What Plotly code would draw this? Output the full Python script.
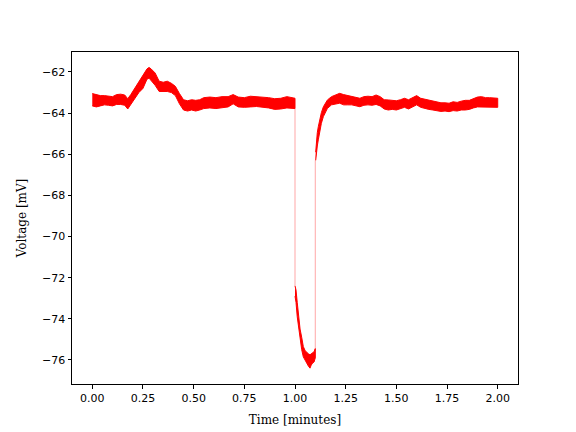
import plotly.graph_objects as go

# Segment A: 0 - 1.0 min (time, lower envelope, upper envelope)
t_a = [0.00, 0.02, 0.04, 0.06, 0.08, 0.10, 0.12, 0.14, 0.16, 0.175, 0.19, 0.21, 0.23, 0.25,
       0.27, 0.28, 0.29, 0.31, 0.33, 0.35, 0.37, 0.39, 0.41, 0.43, 0.45, 0.47, 0.49, 0.51,
       0.53, 0.55, 0.58, 0.61, 0.64, 0.67, 0.695, 0.72, 0.75, 0.78, 0.81, 0.84, 0.87, 0.90,
       0.93, 0.96, 0.99, 1.00]
lo_a = [-63.65, -63.70, -63.65, -63.60, -63.62, -63.65, -63.58, -63.58, -63.62, -63.80, -63.60,
        -63.30, -63.00, -62.80, -62.35, -62.30, -62.40, -62.65, -62.95, -62.95, -62.95, -63.00,
        -63.15, -63.55, -63.85, -63.90, -63.85, -63.90, -63.85, -63.78, -63.75, -63.78, -63.75,
        -63.70, -63.55, -63.70, -63.72, -63.70, -63.68, -63.72, -63.75, -63.82, -63.80, -63.75,
        -63.78, -63.78]
hi_a = [-63.05, -63.10, -63.15, -63.15, -63.18, -63.20, -63.10, -63.08, -63.12, -63.30, -63.10,
        -62.80, -62.50, -62.20, -61.85, -61.78, -61.85, -62.05, -62.45, -62.50, -62.45, -62.55,
        -62.70, -63.05, -63.35, -63.40, -63.35, -63.38, -63.35, -63.25, -63.22, -63.25, -63.20,
        -63.20, -63.10, -63.22, -63.25, -63.18, -63.20, -63.22, -63.25, -63.30, -63.28, -63.20,
        -63.25, -63.28]

# Segment B: 1.0 - 1.1 min
t_b = [1.000, 1.005, 1.011, 1.018, 1.025, 1.033, 1.041, 1.050, 1.058, 1.066, 1.074, 1.080,
       1.087, 1.094, 1.100]
lo_b = [-72.90, -73.20, -73.90, -74.50, -75.00, -75.50, -75.85, -76.05, -76.15, -76.30, -76.40,
        -76.25, -76.15, -76.10, -75.90]
hi_b = [-72.40, -72.60, -73.20, -73.90, -74.50, -74.90, -75.35, -75.55, -75.65, -75.70, -75.75,
        -75.70, -75.65, -75.60, -75.45]

# Segment C: 1.1 - 2.0 min
t_c = [1.102, 1.106, 1.110, 1.115, 1.120, 1.125, 1.130, 1.140, 1.150, 1.160, 1.180, 1.200,
       1.220, 1.240, 1.260, 1.280, 1.300, 1.320, 1.340, 1.360, 1.380, 1.400, 1.420, 1.440,
       1.460, 1.480, 1.500, 1.520, 1.540, 1.560, 1.580, 1.600, 1.620, 1.640, 1.660, 1.680,
       1.700, 1.720, 1.740, 1.760, 1.780, 1.800, 1.820, 1.840, 1.860, 1.880, 1.900, 1.920,
       1.940, 1.960, 1.980, 2.000]
lo_c = [-66.30, -66.10, -65.60, -65.30, -64.95, -64.72, -64.50, -64.17, -63.95, -63.77, -63.60,
        -63.55, -63.52, -63.60, -63.60, -63.60, -63.65, -63.69, -63.62, -63.60, -63.62, -63.58,
        -63.65, -63.80, -63.85, -63.82, -63.85, -63.80, -63.72, -63.80, -63.70, -63.60, -63.72,
        -63.78, -63.82, -63.85, -63.90, -63.92, -63.90, -63.93, -63.88, -63.90, -63.85, -63.85,
        -63.82, -63.75, -63.70, -63.69, -63.72, -63.70, -63.72, -63.72]
hi_c = [-65.90, -65.30, -64.95, -64.66, -64.40, -64.17, -63.98, -63.69, -63.50, -63.36, -63.20,
        -63.10, -63.04, -63.10, -63.15, -63.20, -63.22, -63.28, -63.20, -63.18, -63.20, -63.12,
        -63.20, -63.35, -63.36, -63.38, -63.40, -63.35, -63.28, -63.35, -63.25, -63.15, -63.28,
        -63.33, -63.38, -63.42, -63.48, -63.50, -63.50, -63.52, -63.45, -63.48, -63.42, -63.38,
        -63.38, -63.30, -63.22, -63.20, -63.25, -63.25, -63.28, -63.28]

# Thin jumps between segments
jump_t = [1.0, 1.0, None, 1.1, 1.1]
jump_v = [-63.78, -72.40, None, -75.90, -66.30]

x_ticks = [0.0, 0.25, 0.5, 0.75, 1.0, 1.25, 1.5, 1.75, 2.0]
x_tick_text = ["0.00", "0.25", "0.50", "0.75", "1.00", "1.25", "1.50", "1.75", "2.00"]
y_ticks = [-76, -74, -72, -70, -68, -66, -64, -62]

fig = go.Figure()
fig.add_trace(go.Scatter(x=jump_t, y=jump_v, mode="lines",
                         line=dict(color="rgba(255,0,0,0.35)", width=1),
                         hoverinfo="skip", showlegend=False))
for t, lo, hi in [(t_a, lo_a, hi_a), (t_b, lo_b, hi_b), (t_c, lo_c, hi_c)]:
    fig.add_trace(go.Scatter(x=t + t[::-1], y=hi + lo[::-1], mode="lines",
                             fill="toself", fillcolor="#ff0000",
                             line=dict(color="#ff0000", width=1),
                             showlegend=False))

axis_common = dict(showline=True, mirror=True, linecolor="black", linewidth=1,
                   ticks="outside", ticklen=3.5, tickwidth=1, tickcolor="black",
                   showgrid=False, zeroline=False, automargin=False,
                   tickfont=dict(family="DejaVu Sans", size=11, color="black"))

fig.update_layout(
    width=576, height=432,
    margin=dict(l=72, r=58, t=52, b=48),
    paper_bgcolor="white", plot_bgcolor="white",
    xaxis=dict(range=[-0.1, 2.1], tickvals=x_ticks, ticktext=x_tick_text,
               title=dict(text="Time [minutes]", standoff=11,
                          font=dict(family="DejaVu Serif", size=12, color="black")),
               **axis_common),
    yaxis=dict(range=[-77.17, -61.03], tickvals=y_ticks,
               title=dict(text="Voltage [mV]", standoff=12,
                          font=dict(family="DejaVu Serif", size=12, color="black")),
               **axis_common),
)

fig.write_html("out.html", config={"displayModeBar": False},
               post_script="document.body.style.margin='0';document.body.style.overflow='hidden';")
